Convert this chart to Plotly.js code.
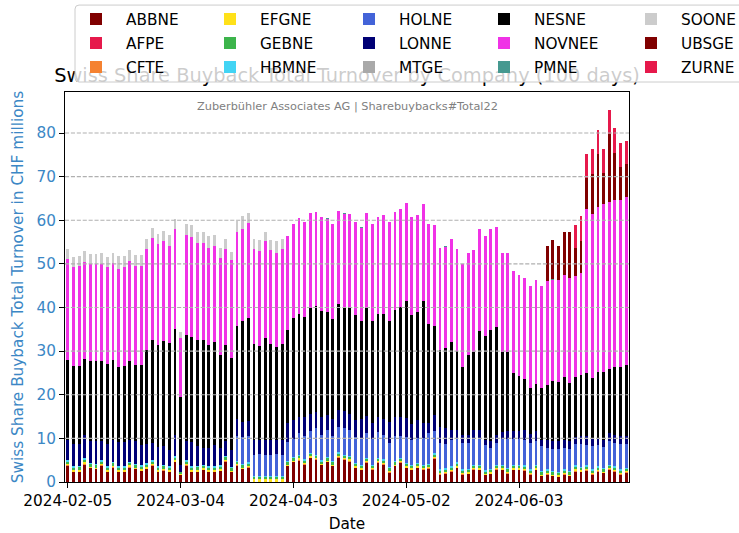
<!DOCTYPE html>
<html><head><meta charset="utf-8">
<script src="https://cdn.plot.ly/plotly-3.0.1.min.js"></script>
<style>html,body{margin:0;padding:0;background:#fff}#chart{width:739px;height:533px}</style>
</head><body><div id="chart"></div>
<script>
// ---------- DATA ----------
const dates = [
'2024-02-05','2024-02-06','2024-02-07','2024-02-08','2024-02-09','2024-02-12','2024-02-13','2024-02-14','2024-02-15','2024-02-16',
'2024-02-19','2024-02-20','2024-02-21','2024-02-22','2024-02-23','2024-02-26','2024-02-27','2024-02-28','2024-02-29','2024-03-01',
'2024-03-04','2024-03-05','2024-03-06','2024-03-07','2024-03-08','2024-03-11','2024-03-12','2024-03-13','2024-03-14','2024-03-15',
'2024-03-18','2024-03-19','2024-03-20','2024-03-21','2024-03-22','2024-03-25','2024-03-26','2024-03-27','2024-03-28','2024-04-02',
'2024-04-03','2024-04-04','2024-04-05','2024-04-08','2024-04-09','2024-04-10','2024-04-11','2024-04-12','2024-04-15','2024-04-16',
'2024-04-17','2024-04-18','2024-04-19','2024-04-22','2024-04-23','2024-04-24','2024-04-25','2024-04-26','2024-04-29','2024-04-30',
'2024-05-02','2024-05-03','2024-05-06','2024-05-07','2024-05-08','2024-05-10','2024-05-13','2024-05-14','2024-05-15','2024-05-16',
'2024-05-17','2024-05-21','2024-05-22','2024-05-23','2024-05-24','2024-05-27','2024-05-28','2024-05-29','2024-05-30','2024-05-31',
'2024-06-03','2024-06-04','2024-06-05','2024-06-06','2024-06-07','2024-06-10','2024-06-11','2024-06-12','2024-06-13','2024-06-14',
'2024-06-17','2024-06-18','2024-06-19','2024-06-20','2024-06-21','2024-06-24','2024-06-25','2024-06-26','2024-06-27','2024-06-28'];
const xTickLabels = ['2024-02-05','2024-03-04','2024-04-03','2024-05-02','2024-06-03'];
const yTicks = [0,10,20,30,40,50,60,70,80];

const companies = ['ABBNE','AFPE','CFTE','EFGNE','GEBNE','HBMNE','HOLNE','LONNE','MTGE','NESNE','NOVNEE','PMNE','SOONE','UBSGE','ZURNE'];

const ABBNE = [3.7,2.3,2.3,4.0,3.1,2.9,3.7,2.2,3.3,2.3, 2.3,3.3,2.9,2.5,2.9,3.7,2.3,2.6,2.3,4.5,
               1.5,3.7,2.3,2.3,2.7,2.3,2.3,2.5,4.6,2.2, 3.7,2.9,3.3,0,0,0,0,0,0,3.6,
               4.5,4.9,4.0,5.5,5.1,3.8,4.5,3.6,5.5,5.1, 4.7,3.2,2.7,4.4,2.8,4.4,4.0,2.1,3.6,4.4,
               3.2,2.7,3.2,2.8,3.0,5.3,1.7,1.9,2.4,3.2, 1.7,1.8,2.8,2.7,1.5,1.8,2.8,2.7,1.9,2.7,
               2.7,2.6,1.7,2.7,1.3,1.7,1.3,1.1,1.7,1.3, 2.4,2.3,2.6,1.7,2.4,2.0,2.7,2.4,1.7,2.1];
const AFPE  = [0,0,0,0,0,0,0,0,0,0, 0,0,0,0,0,0,0,0,0,0, 0,0,0,0,0,0,0,0,0,0, 0,0,0,0,0,0,0,0,0,0,
               0,0,0,0,0,0,0,0,0,0, 0,0,0,0,0,0,0,0,0,0, 0,0,0,0,0,0,0,0,0,0, 0,0,0,0,0,0,0,0,0,0,
               0,0,0,0,0,0,0,0,0,0, 0,0,0,0,0,0,0,0,0,0];
const CFTE  = [0.1,0.1,0.1,0.2,0.1,0.1,0.1,0.1,0.1,0.1, 0.1,0.2,0.1,0.1,0.1,0.1,0.1,0.1,0.1,0.2,
               0.1,0.1,0.1,0.1,0.1,0.1,0.1,0.1,0.2,0.1, 0.1,0.1,0.1,0,0,0,0,0,0,0.1,
               0.1,0.2,0.1,0.1,0.1,0.1,0.1,0.1,0.2,0.1, 0.1,0.1,0.1,0.1,0.1,0.1,0.1,0.1,0.1,0.1,
               0.1,0.1,0.1,0.1,0.1,0.2,0.1,0.1,0.1,0.1, 0.1,0.1,0.1,0.1,0.1,0.1,0.1,0.1,0.1,0.1,
               0.1,0.1,0.1,0.1,0.1,0.1,0.1,0.1,0.1,0.1, 0.2,0.1,0.1,0.1,0.1,0.1,0.2,0.1,0.1,0.1];
const EFGNE = [0.3,0.3,0.4,0.3,0.3,0.3,0.3,0.4,0.3,0.3, 0.3,0.3,0.3,0.3,0.4,0.3,0.3,0.3,0.3,0.3,
               0.3,0.3,0.3,0.4,0.3,0.3,0.3,0.3,0.3,0.3, 0.3,0.3,0.3,0.6,0.6,0.6,0.6,0.6,0.6,0.3,
               0.3,0.3,0.3,0.3,0.3,0.3,0.3,0.3,0.3,0.3, 0.4,0.3,0.3,0.3,0.3,0.3,0.3,0.4,0.3,0.3,
               0.3,0.3,0.3,0.3,0.3,0.3,0.3,0.3,0.3,0.4, 0.3,0.3,0.3,0.3,0.3,0.3,0.3,0.3,0.4,0.3,
               0.3,0.3,0.3,0.3,0.3,0.3,0.3,0.3,0.3,0.3, 0.4,0.3,0.3,0.3,0.3,0.3,0.3,0.3,0.3,0.3];
const GEBNE = [0.6,0.6,0.6,0.6,0.6,0.6,0.6,0.6,0.6,0.6, 0.6,0.6,0.6,0.6,0.6,0.6,0.6,0.6,0.6,0.6,
               0.3,0.6,0.6,0.6,0.6,0.6,0.6,0.6,0.6,0.6, 0.5,0.5,0.5,0.6,0.6,0.6,0.6,0.6,0.6,0.5,
               0.5,0.5,0.5,0.5,0.5,0.5,0.5,0.5,0.5,0.5, 0.5,0.5,0.5,0.5,0.5,0.5,0.5,0.5,0.5,0.5,
               0.5,0.5,0.5,0.5,0.5,0.5,0.5,0.5,0.5,0.5, 0.5,0.5,0.5,0.5,0.5,0.5,0.5,0.5,0.5,0.5,
               0.5,0.5,0.5,0.5,0.5,0.5,0.5,0.5,0.5,0.5, 0.5,0.5,0.5,0.5,0.5,0.5,0.5,0.5,0.5,0.5];
const HBMNE = [0.3,0.3,0.3,0.3,0.3,0.3,0.3,0.3,0.3,0.3, 0.3,0.3,0.3,0.3,0.3,0.3,0.3,0.3,0.3,0.3,
               0.1,0.3,0.3,0.3,0.3,0.3,0.3,0.3,0.3,0.3, 0.3,0.3,0.3,0.1,0.1,0.1,0.1,0.1,0.1,0.3,
               0.3,0.3,0.3,0.3,0.3,0.3,0.3,0.3,0.3,0.3, 0.3,0.3,0.3,0.3,0.3,0.3,0.3,0.3,0.3,0.3,
               0.3,0.3,0.3,0.3,0.3,0.3,0.3,0.3,0.3,0.3, 0.3,0.3,0.3,0.3,0.3,0.3,0.3,0.3,0.3,0.3,
               0.3,0.3,0.3,0.3,0.3,0.3,0.3,0.3,0.3,0.3, 0.3,0.3,0.3,0.3,0.3,0.3,0.3,0.3,0.3,0.3];
const HOLNE = [0,0,0,0,0,0,0,0,0,0, 0,0,0,0,0,0,0,0,0,0,
               0,0,0,0,0,0,0,0,0,0, 5.6,6.2,6.0,5.0,5.2,4.9,5.0,5.1,5.0,4.4,
               4.1,5.1,5.3,4.9,6.1,5.8,6.3,5.8,5.9,6.1, 5.9,5.9,5.9,5.6,5.8,5.8,5.6,5.6,5.7,5.0,
               5.9,5.8,5.7,6.1,7.0,5.0,6.0,5.6,6.1,5.3, 6.0,5.9,5.8,5.9,5.8,4.8,4.9,5.9,6.7,5.9,
               5.9,5.9,6.1,5.4,5.7,4.9,5.1,5.3,4.9,5.1, 4.9,5.2,4.7,5.3,4.9,4.8,5.4,5.4,5.8,5.4];
const LONNE = [4.6,5.1,5.1,5.3,5.1,5.3,4.5,5.0,5.0,5.6, 5.6,5.0,5.3,4.7,4.3,4.0,4.5,4.3,3.7,4.8,
               1.5,4.5,5.6,4.5,3.9,4.3,4.9,4.1,3.3,3.8, 3.9,3.4,3.4,3.4,3.2,3.5,3.4,3.3,3.4,4.3,
               4.5,3.7,4.3,4.0,3.6,4.2,3.4,3.8,3.7,3.8, 3.8,4.0,4.6,4.0,3.7,3.6,3.7,4.8,4.3,4.3,
               4.4,3.7,4.0,3.4,2.3,3.7,3.6,3.7,2.3,2.1, 1.9,1.9,2.2,2.2,1.2,1.5,1.9,1.7,1.7,2.0,
               2.0,2.3,2.0,2.3,1.5,1.9,1.9,1.7,1.9,1.7, 1.6,1.8,2.0,1.9,1.6,1.7,1.9,1.8,1.8,1.8];
const MTGE  = [0,0,0,0,0,0,0,0,0,0, 0,0,0,0,0,0,0,0,0,0, 0,0,0,0,0,0,0,0,0,0, 0,0,0,0,0,0,0,0,0,0,
               0,0,0,0,0,0,0,0,0,0, 0,0,0,0,0,0,0,0,0,0, 0,0,0,0,0,0,0,0,0,0, 0,0,0,0,0,0,0,0,0,0,
               0,0,0,0,0,0,0,0,0,0, 0,0,0,0,0,0,0,0,0,0];
const NESNE = [18.3,17.8,17.8,17.6,18.2,18.2,18.2,18.4,18.3,17.1, 17.3,18.1,17.4,18.4,21.7,23.6,23.4,24.1,24.5,24.3,
               15.8,24.1,24.1,24.4,24.6,23.6,23.6,21.2,22.0,21.2, 21.3,23.1,23.7,21.9,21.5,23.4,21.9,21.3,21.9,21.3,
               23.3,23.4,23.1,24.2,24.4,24.2,23.5,22.9,24.3,23.8, 24.4,24.0,22.6,24.6,23.3,23.5,24.0,23.1,24.7,25.3,
               26.9,24.9,24.8,27.9,22.8,20.4,17.8,18.3,20.2,18.1, 15.5,18.2,17.9,22.7,23.7,25.6,24.8,18.4,18.2,13.2,
               12.4,11.6,10.5,10.9,11.8,12.6,13.6,13.6,14.3,13.5, 13.7,14.1,14.5,13.7,15.1,15.5,14.5,15.5,15.8,16.4];
const NOVNEE = [23.2,22.9,22.9,22.2,22.3,22.3,22.3,22.3,22.3,22.5, 22.9,22.9,22.7,22.7,23.0,23.4,23.1,22.9,22.4,22.9,
               13.5,23.1,22.9,22.3,22.3,22.2,22.1,22.2,22.0,22.3, 21.7,21.3,21.7,21.8,21.8,22.1,21.6,21.6,21.8,21.6,
               21.5,22.2,21.6,21.8,21.4,21.6,21.4,21.8,21.5,21.4, 21.4,21.4,21.3,21.8,22.3,22.3,22.6,22.7,22.3,22.4,
               22.3,22.5,22.3,22.3,22.9,23.2,23.4,23.2,23.4,23.5, 23.6,23.4,23.3,23.3,22.9,23.1,22.9,22.5,22.7,23.4,
               23.3,23.1,23.5,23.7,23.5,23.7,23.3,23.4,23.5,23.9, 23.3,23.3,37.6,37.7,37.8,38.5,38.4,38.4,38.4,38.4];
const PMNE  = [0,0,0,0,0,0,0,0,0,0, 0,0,0,0,0,0,0,0,0,0, 0,0,0,0,0,0,0,0,0,0, 0,0,0,0,0,0,0,0,0,0,
               0,0,0,0,0.2,0,0.2,0,0,0.2, 0,0,0.2,0,0,0,0,0,0,0, 0,0,0,0,0,0,0,0.2,0,0, 0,0,0,0,0.2,0,0,0,0,0,
               0,0,0,0,0,0,0.2,0,0,0, 0,0,0,0,0,0,0,0,0,0];
const SOONE = [2.4,2.1,2.4,2.4,2.3,2.3,2.5,2.3,2.4,3.0, 2.4,2.5,2.5,2.5,2.4,2.2,2.3,2.3,2.5,2.4,
               1.4,2.4,2.6,2.4,2.4,2.8,2.5,2.4,2.4,2.0, 2.5,2.9,2.4,2.3,2.5,2.2,2.3,2.6,2.3,0,
               0,0,0,0,0,0,0,0,0,0, 0,0,0,0,0,0,0,0,0,0, 0,0,0,0,0,0,0,0,0,0, 0,0,0,0,0,0,0,0,0,0,
               0,0,0,0,0,0,0,0,0,0, 0,0,0,0,0,0,0,0,0,0];
const UBSGE = [0,0,0,0,0,0,0,0,0,0, 0,0,0,0,0,0,0,0,0,0, 0,0,0,0,0,0,0,0,0,0, 0,0,0,0,0,0,0,0,0,0,
               0,0,0,0,0,0,0,0,0,0, 0,0,0,0,0,0,0,0,0,0, 0,0,0,0,0,0,0,0,0,0, 0,0,0,0,0,0,0,0,0,0,
               0,0,0,0,0,8.0,8.8,7.9,9.8,10.6, 6.3,7.4,7.2,9.1,12.2,7.2,15.6,10.8,7.6,7.5];
const ZURNE = [0,0,0,0,0,0,0,0,0,0, 0,0,0,0,0,0,0,0,0,0, 0,0,0,0,0,0,0,0,0,0, 0,0,0,0,0,0,0,0,0,0,
               0,0,0,0,0,0,0,0,0,0, 0,0,0,0,0,0,0,0,0,0, 0,0,0,0,0,0,0,0,0,0, 0,0,0,0,0,0,0,0,0,0,
               0,0,0,0,0,0,0,0,0,0, 5.4,5.7,5.4,5.7,5.6,5.4,5.4,5.6,5.3,5.4];

const seriesValues = {ABBNE, AFPE, CFTE, EFGNE, GEBNE, HBMNE, HOLNE, LONNE, MTGE, NESNE, NOVNEE, PMNE, SOONE, UBSGE, ZURNE};

// ---------- STYLE ----------
const colors = {ABBNE:'#800000', AFPE:'#e6194b', CFTE:'#f58231', EFGNE:'#ffe119', GEBNE:'#3cb44b',
  HBMNE:'#42d4f4', HOLNE:'#4363d8', LONNE:'#000075', MTGE:'#a9a9a9', NESNE:'#000000',
  NOVNEE:'#f032e6', PMNE:'#469990', SOONE:'#cccccc', UBSGE:'#800000', ZURNE:'#e6194b'};
const FONT = 'DejaVu Sans, Verdana, sans-serif';
const FS = 15.3;
const BLUE = '#3b87c5';
const W = 739, H = 533;
const L = 65, R = 629, T = 92, B = 482.3;
const px2x = p => (p - L) / (R - L);
const py2y = p => (B - p) / (B - T);
const colTextPx = [126, 260, 399, 534, 681];
const rowPx = [19, 43, 67];
const ITEMW = 50;

const traces = [];
const layout = {
  width: W, height: H,
  margin: {l: L, r: W - R, t: T, b: H - B, autoexpand: false},
  paper_bgcolor: '#fff', plot_bgcolor: '#fff',
  font: {family: FONT, size: FS, color: '#000'},
  barmode: 'stack', bargap: 0.5,
  showlegend: true,
  title: {text: 'Swiss Share Buyback Total Turnover by Company (100 days)',
          font: {family: FONT, size: 19.4, color: '#000'},
          x: 0.5, xref: 'paper', xanchor: 'center', y: 1 - 75 / H, yref: 'container', yanchor: 'middle'},
  xaxis: {type: 'category', categoryorder: 'array', categoryarray: dates, range: [-0.5, dates.length - 0.5],
          tickmode: 'array', tickvals: xTickLabels, ticktext: xTickLabels,
          ticks: 'outside', ticklen: 5, tickwidth: 1, tickcolor: '#000',
          showline: true, linecolor: '#000', linewidth: 1, mirror: true, showgrid: false, zeroline: false,
          tickfont: {family: FONT, size: FS, color: '#000'},
          title: {text: 'Date', font: {family: FONT, size: FS, color: '#000'}, standoff: 9}},
  yaxis: {range: [0, 89.4], tickmode: 'array', tickvals: yTicks, ticktext: yTicks.map(String),
          ticks: 'outside', ticklen: 5, tickwidth: 1, tickcolor: '#000',
          showline: true, linecolor: '#000', linewidth: 1, mirror: true, showgrid: false, zeroline: false,
          tickfont: {family: FONT, size: FS, color: BLUE},
          title: {text: 'Swiss Share Buyback Total Turnover in CHF millions', font: {family: FONT, size: FS, color: BLUE}, standoff: 9}},
  shapes: [],
  annotations: [{text: 'Zuberbühler Associates AG | Sharebuybacks#Total22', xref: 'paper', yref: 'paper',
    x: 0.5, y: py2y(107), xanchor: 'center', yanchor: 'middle', showarrow: false,
    font: {family: FONT, size: 11.3, color: '#808080'}}]
};

companies.forEach((name, k) => {
  const col = Math.floor(k / 3), row = k % 3;
  const lid = k === 0 ? 'legend' : 'legend' + (k + 1);
  traces.push({type: 'bar', name: name, x: dates, y: seriesValues[name],
    marker: {color: colors[name], line: {width: 0}}, legend: lid, hoverinfo: 'skip'});
  layout[lid] = {x: px2x(colTextPx[col] - ITEMW - 10), y: py2y(rowPx[row]), xref: 'paper', yref: 'paper',
    xanchor: 'left', yanchor: 'middle', orientation: 'v', bgcolor: 'rgba(0,0,0,0)', borderwidth: 0,
    itemwidth: ITEMW, font: {family: FONT, size: FS, color: '#000'}};
});

// horizontal dashed grid drawn above bars (as in the reference)
yTicks.filter(v => v > 0).forEach(v => layout.shapes.push({type: 'line', xref: 'paper', x0: 0, x1: 1, yref: 'y', y0: v, y1: v,
  line: {color: '#b0b0b0', width: 1.1, dash: '4.1px,1.8px'}, layer: 'above'}));

// legend frame
(function () {
  const x0 = px2x(75), x1 = px2x(746), y0 = py2y(82), y1 = py2y(5);
  const rx = 4 / (R - L), ry = 4 / (B - T);
  const p = `M${x0 + rx},${y1} L${x1 - rx},${y1} Q${x1},${y1} ${x1},${y1 - ry} L${x1},${y0 + ry} Q${x1},${y0} ${x1 - rx},${y0} ` +
            `L${x0 + rx},${y0} Q${x0},${y0} ${x0},${y0 + ry} L${x0},${y1 - ry} Q${x0},${y1} ${x0 + rx},${y1} Z`;
  layout.shapes.push({type: 'path', xref: 'paper', yref: 'paper', path: p, fillcolor: 'rgba(255,255,255,0.8)',
    line: {color: '#cccccc', width: 1}, layer: 'above'});
})();

Plotly.newPlot('chart', traces, layout, {staticPlot: true, displayModeBar: false}).then(gd => {
  const t = gd.querySelector('.g-gtitle');
  const la = gd.querySelector('.layer-above');
  if (t && la) la.parentNode.insertBefore(t, la);
});
</script>
</body></html>
